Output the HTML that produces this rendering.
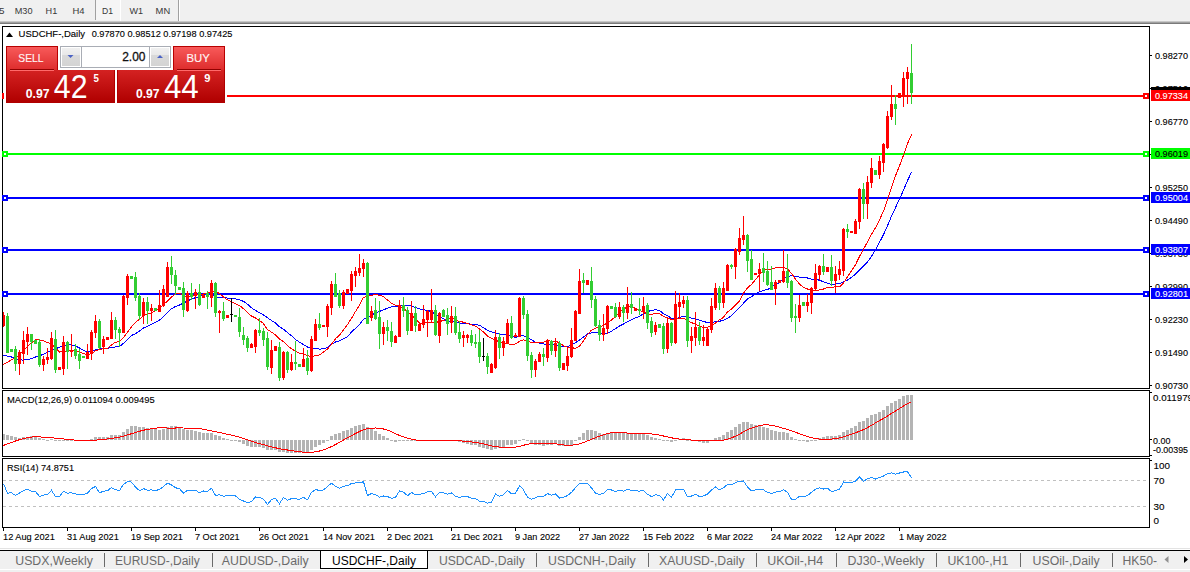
<!DOCTYPE html>
<html><head><meta charset="utf-8"><style>
html,body{margin:0;padding:0;width:1190px;height:572px;overflow:hidden;background:#fff;}
#main{position:absolute;left:0;top:0;}
#tp div{position:absolute;box-sizing:border-box;}
.rb{background:linear-gradient(#f85a5a,#dc2a2a);border:1px solid #b80000;border-bottom:none;}
.pb{background:linear-gradient(#d42222,#b00000);border:1px solid #b00000;border-top:none;}
.ln{height:1px;background:#900000;}
.ln2{height:1px;background:#ff6a6a;}
.lot{left:58px;top:45px;width:116px;height:25px;background:#f0f0f0;border:1px solid #d8d8d8;}
#tp .lot::after{content:"";position:absolute;left:1px;top:1px;width:112px;height:21px;background:#fff;border:1px solid #a8a8a8;box-sizing:border-box;}
.spin{top:48px;width:18px;height:18px;background:linear-gradient(#f0f0f0,#e8e8e8 40%,#d9d9d9 41%,#d4d4d4);}
#pt{position:absolute;left:0;top:0;}
</style></head><body>
<svg id="main" width="1190" height="572" font-family="Liberation Sans, sans-serif">
<rect x="0" y="0" width="1190" height="22" fill="#f0f0f0"/>
<rect x="0" y="21" width="1190" height="1" fill="#c8c8c8"/>
<rect x="0" y="22" width="1190" height="1" fill="#a0a0a0"/>
<rect x="0" y="23" width="1190" height="1" fill="#7a7a7a"/>
<rect x="96" y="0" width="24" height="20" fill="#f5f5f5"/>
<rect x="95" y="0" width="1" height="20" fill="#a0a0a0"/>
<rect x="120" y="0" width="1" height="21" fill="#ffffff"/>
<rect x="178" y="0" width="1" height="21" fill="#a0a0a0"/>
<rect x="179" y="0" width="1" height="21" fill="#ffffff"/>
<text x="-1" y="14" font-size="9.4" fill="#383838" textLength="5.5" lengthAdjust="spacingAndGlyphs">5</text>
<text x="14.7" y="14" font-size="9.4" fill="#383838" textLength="17.8" lengthAdjust="spacingAndGlyphs">M30</text>
<text x="45.6" y="14" font-size="9.4" fill="#383838" textLength="11.7" lengthAdjust="spacingAndGlyphs">H1</text>
<text x="72.5" y="14" font-size="9.4" fill="#383838" textLength="12.1" lengthAdjust="spacingAndGlyphs">H4</text>
<text x="102" y="14" font-size="9.4" fill="#383838" textLength="11" lengthAdjust="spacingAndGlyphs">D1</text>
<text x="129.4" y="14" font-size="9.4" fill="#383838" textLength="13.6" lengthAdjust="spacingAndGlyphs">W1</text>
<text x="155.6" y="14" font-size="9.4" fill="#383838" textLength="14.6" lengthAdjust="spacingAndGlyphs">MN</text>
<rect x="2.5" y="26.5" width="1147" height="362" fill="#fff" stroke="#000" stroke-width="1"/>
<rect x="2.5" y="390.5" width="1147" height="66" fill="#fff" stroke="#000" stroke-width="1"/>
<rect x="2.5" y="458.5" width="1147" height="69" fill="#fff" stroke="#000" stroke-width="1"/>
<defs><clipPath id="cm"><rect x="3" y="27" width="1146" height="361"/></clipPath><clipPath id="cd"><rect x="3" y="391" width="1146" height="65"/></clipPath><clipPath id="cr"><rect x="3" y="459" width="1146" height="68"/></clipPath></defs>
<g clip-path="url(#cm)" shape-rendering="crispEdges">
<rect x="3" y="95" width="1146" height="2" fill="#ff0000"/>
<rect x="3" y="153" width="1146" height="2" fill="#00ff00"/>
<rect x="3" y="197" width="1146" height="2" fill="#0000ff"/>
<rect x="3" y="249" width="1146" height="2" fill="#0000ff"/>
<rect x="3" y="293" width="1146" height="2" fill="#0000ff"/>
</g>
<g shape-rendering="crispEdges">
<rect x="2" y="93" width="6" height="6" fill="#ff0000"/>
<rect x="4" y="95" width="2" height="2" fill="#fff"/>
<rect x="1143" y="93" width="6" height="6" fill="#ff0000"/>
<rect x="1145" y="95" width="2" height="2" fill="#fff"/>
<rect x="2" y="151" width="6" height="6" fill="#00ff00"/>
<rect x="4" y="153" width="2" height="2" fill="#fff"/>
<rect x="1143" y="151" width="6" height="6" fill="#00ff00"/>
<rect x="1145" y="153" width="2" height="2" fill="#fff"/>
<rect x="2" y="195" width="6" height="6" fill="#0000ff"/>
<rect x="4" y="197" width="2" height="2" fill="#fff"/>
<rect x="1143" y="195" width="6" height="6" fill="#0000ff"/>
<rect x="1145" y="197" width="2" height="2" fill="#fff"/>
<rect x="2" y="247" width="6" height="6" fill="#0000ff"/>
<rect x="4" y="249" width="2" height="2" fill="#fff"/>
<rect x="1143" y="247" width="6" height="6" fill="#0000ff"/>
<rect x="1145" y="249" width="2" height="2" fill="#fff"/>
<rect x="2" y="291" width="6" height="6" fill="#0000ff"/>
<rect x="4" y="293" width="2" height="2" fill="#fff"/>
<rect x="1143" y="291" width="6" height="6" fill="#0000ff"/>
<rect x="1145" y="293" width="2" height="2" fill="#fff"/>
</g>
<polyline clip-path="url(#cm)" points="-0.5,354.2 3.5,355.1 7.5,356.1 11.5,357.0 15.5,358.7 19.5,359.9 23.5,360.1 27.5,359.5 31.5,358.6 35.5,357.0 39.5,355.8 43.5,354.2 47.5,352.5 51.5,349.9 55.5,348.6 59.5,347.4 63.5,345.4 67.5,344.9 71.5,345.0 75.5,346.0 79.5,348.0 83.5,350.4 87.5,352.1 91.5,351.2 95.5,349.7 99.5,349.0 103.5,348.3 107.5,348.2 111.5,347.6 115.5,347.0 119.5,346.5 123.5,343.3 127.5,339.3 131.5,335.5 135.5,333.6 139.5,331.0 143.5,327.9 147.5,326.4 151.5,324.3 155.5,322.4 159.5,320.0 163.5,316.7 167.5,312.4 171.5,308.7 175.5,306.5 179.5,305.0 183.5,303.1 187.5,301.0 191.5,299.0 195.5,297.7 199.5,296.5 203.5,294.8 207.5,294.8 211.5,295.1 215.5,296.7 219.5,297.4 223.5,297.5 227.5,298.1 231.5,298.4 235.5,298.8 239.5,299.8 243.5,301.4 247.5,304.1 251.5,307.8 255.5,310.5 259.5,312.7 263.5,315.0 267.5,317.8 271.5,320.5 275.5,322.9 279.5,326.9 283.5,329.2 287.5,332.7 291.5,335.8 295.5,339.6 299.5,342.2 303.5,344.5 307.5,347.0 311.5,348.1 315.5,348.6 319.5,349.1 323.5,348.8 327.5,347.3 331.5,344.3 335.5,342.0 339.5,340.8 343.5,338.9 347.5,336.5 351.5,332.1 355.5,328.3 359.5,324.6 363.5,319.2 367.5,317.8 371.5,315.1 375.5,313.0 379.5,311.5 383.5,309.7 387.5,308.3 391.5,306.9 395.5,306.8 399.5,305.9 403.5,305.1 407.5,305.3 411.5,305.6 415.5,307.6 419.5,308.9 423.5,309.6 427.5,310.5 431.5,311.5 435.5,314.4 439.5,316.4 443.5,318.7 447.5,321.5 451.5,321.2 455.5,322.2 459.5,323.1 463.5,323.2 467.5,323.6 471.5,324.2 475.5,324.3 479.5,325.3 483.5,327.7 487.5,330.3 491.5,331.9 495.5,333.1 499.5,334.1 503.5,334.9 507.5,335.1 511.5,336.4 515.5,337.5 519.5,335.8 523.5,335.8 527.5,337.7 531.5,339.9 535.5,342.1 539.5,343.1 543.5,344.0 547.5,344.2 551.5,344.9 555.5,345.0 559.5,346.1 563.5,346.4 567.5,346.4 571.5,345.1 575.5,342.6 579.5,340.0 583.5,336.9 587.5,334.0 591.5,332.9 595.5,332.3 599.5,332.3 603.5,333.8 607.5,333.4 611.5,331.1 615.5,328.6 619.5,326.0 623.5,324.0 627.5,321.6 631.5,319.9 635.5,317.9 639.5,316.4 643.5,313.5 647.5,311.6 651.5,310.4 655.5,309.7 659.5,310.5 663.5,313.7 667.5,315.6 671.5,318.5 675.5,318.8 679.5,317.7 683.5,316.1 687.5,316.7 691.5,318.1 695.5,319.0 699.5,320.1 703.5,321.6 707.5,322.4 711.5,322.5 715.5,321.6 719.5,321.3 723.5,320.2 727.5,318.3 731.5,315.6 735.5,311.7 739.5,307.5 743.5,303.2 747.5,298.9 751.5,296.8 755.5,293.6 759.5,291.9 763.5,290.4 767.5,289.6 771.5,287.2 775.5,284.6 779.5,282.4 783.5,279.1 787.5,276.4 791.5,275.8 795.5,276.3 799.5,277.2 803.5,277.3 807.5,278.0 811.5,279.1 815.5,279.4 819.5,280.2 823.5,281.8 827.5,283.3 831.5,284.3 835.5,284.0 839.5,283.9 843.5,281.9 847.5,280.0 851.5,277.4 855.5,274.2 859.5,269.8 863.5,266.1 867.5,261.9 871.5,256.5 875.5,249.7 879.5,242.3 883.5,234.6 887.5,225.6 891.5,216.2 895.5,207.6 899.5,199.0 903.5,190.1 907.5,180.6 911.5,172.3" fill="none" stroke="#0000ff" stroke-width="1" shape-rendering="crispEdges"/>
<polyline clip-path="url(#cm)" points="-0.5,366.0 3.5,364.2 7.5,362.4 11.5,359.7 15.5,357.6 19.5,354.7 23.5,350.9 27.5,346.6 31.5,342.9 35.5,339.9 39.5,340.0 43.5,340.8 47.5,342.5 51.5,343.8 55.5,348.3 59.5,352.0 63.5,351.3 67.5,351.3 71.5,350.4 75.5,350.6 79.5,352.0 83.5,353.7 87.5,354.5 91.5,353.7 95.5,350.6 99.5,349.7 103.5,348.5 107.5,348.4 111.5,344.9 115.5,342.2 119.5,341.5 123.5,337.6 127.5,332.3 131.5,326.8 135.5,322.3 139.5,319.3 143.5,315.7 147.5,314.1 151.5,313.2 155.5,310.5 159.5,308.1 163.5,304.7 167.5,300.9 171.5,297.0 175.5,293.7 179.5,293.2 183.5,295.5 187.5,296.6 191.5,296.5 195.5,294.9 199.5,295.0 203.5,294.0 207.5,293.2 211.5,291.3 215.5,291.8 219.5,293.4 223.5,297.0 227.5,299.9 231.5,301.9 235.5,303.9 239.5,305.5 243.5,308.7 247.5,312.4 251.5,316.1 255.5,318.0 259.5,320.6 263.5,323.6 267.5,329.6 271.5,332.2 275.5,334.8 279.5,339.0 283.5,341.6 287.5,345.6 291.5,348.8 295.5,351.1 299.5,353.1 303.5,353.9 307.5,355.8 311.5,356.4 315.5,355.8 319.5,355.0 323.5,352.0 327.5,348.9 331.5,344.4 335.5,338.7 339.5,335.3 343.5,329.8 347.5,324.6 351.5,318.3 355.5,311.5 359.5,305.0 363.5,297.4 367.5,296.2 371.5,295.3 375.5,294.7 379.5,295.2 383.5,296.7 387.5,300.0 391.5,303.2 395.5,305.4 399.5,306.3 403.5,307.8 407.5,311.8 411.5,314.8 415.5,318.9 419.5,323.2 423.5,322.9 427.5,322.9 431.5,322.4 435.5,322.5 439.5,321.5 443.5,320.5 447.5,319.2 451.5,317.8 455.5,319.7 459.5,321.7 463.5,322.1 467.5,323.6 471.5,324.8 475.5,326.2 479.5,328.9 483.5,332.1 487.5,336.1 491.5,338.2 495.5,339.9 499.5,342.1 503.5,343.4 507.5,343.9 511.5,344.2 515.5,344.0 519.5,341.3 523.5,339.9 527.5,340.8 531.5,342.7 535.5,343.0 539.5,342.8 543.5,342.1 547.5,340.5 551.5,341.4 555.5,341.1 559.5,343.0 563.5,345.8 567.5,347.2 571.5,347.5 575.5,348.5 579.5,346.1 583.5,340.9 587.5,334.5 591.5,330.1 595.5,328.1 599.5,326.5 603.5,325.6 607.5,322.5 611.5,320.0 615.5,316.4 619.5,312.4 623.5,309.3 627.5,306.8 631.5,306.4 635.5,308.4 639.5,310.4 643.5,312.2 647.5,313.8 651.5,314.3 655.5,313.6 659.5,313.5 663.5,316.6 667.5,317.6 671.5,319.5 675.5,319.3 679.5,318.6 683.5,318.3 687.5,320.7 691.5,322.7 695.5,323.9 699.5,326.3 703.5,327.4 707.5,327.2 711.5,325.9 715.5,323.1 719.5,319.8 723.5,317.3 727.5,311.8 731.5,309.1 735.5,305.2 739.5,300.8 743.5,293.3 747.5,287.8 751.5,284.4 755.5,279.6 759.5,274.7 763.5,270.7 767.5,269.0 771.5,269.1 775.5,267.7 779.5,267.1 783.5,267.6 787.5,268.7 791.5,273.5 795.5,279.1 799.5,284.1 803.5,287.3 807.5,289.0 811.5,290.1 815.5,290.4 819.5,289.9 823.5,289.0 827.5,287.5 831.5,287.3 835.5,286.9 839.5,286.8 843.5,283.0 847.5,276.8 851.5,270.7 855.5,264.7 859.5,256.4 863.5,249.3 867.5,241.8 871.5,234.3 875.5,227.7 879.5,219.9 883.5,211.1 887.5,199.4 891.5,187.2 895.5,175.7 899.5,166.0 903.5,155.1 907.5,143.7 911.5,134.5" fill="none" stroke="#ff0000" stroke-width="1" shape-rendering="crispEdges"/>
<g clip-path="url(#cm)" shape-rendering="crispEdges">
<rect x="3" y="312" width="1" height="15" fill="#ff0000"/>
<rect x="2" y="315" width="3" height="11" fill="#ff0000"/>
<rect x="7" y="313" width="1" height="40" fill="#32cd32"/>
<rect x="6" y="316" width="3" height="37" fill="#32cd32"/>
<rect x="11" y="349" width="1" height="3" fill="#32cd32"/>
<rect x="10" y="349" width="3" height="3" fill="#32cd32"/>
<rect x="15" y="346" width="1" height="25" fill="#32cd32"/>
<rect x="14" y="349" width="3" height="15" fill="#32cd32"/>
<rect x="19" y="350" width="1" height="25" fill="#ff0000"/>
<rect x="18" y="352" width="3" height="12" fill="#ff0000"/>
<rect x="23" y="331" width="1" height="33" fill="#ff0000"/>
<rect x="22" y="340" width="3" height="14" fill="#ff0000"/>
<rect x="27" y="327" width="1" height="28" fill="#ff0000"/>
<rect x="26" y="334" width="3" height="8" fill="#ff0000"/>
<rect x="31" y="334" width="1" height="16" fill="#32cd32"/>
<rect x="30" y="334" width="3" height="8" fill="#32cd32"/>
<rect x="35" y="340" width="1" height="4" fill="#32cd32"/>
<rect x="34" y="340" width="3" height="4" fill="#32cd32"/>
<rect x="39" y="339" width="1" height="28" fill="#32cd32"/>
<rect x="38" y="342" width="3" height="23" fill="#32cd32"/>
<rect x="43" y="356" width="1" height="15" fill="#ff0000"/>
<rect x="42" y="359" width="3" height="6" fill="#ff0000"/>
<rect x="47" y="348" width="1" height="16" fill="#ff0000"/>
<rect x="46" y="357" width="3" height="3" fill="#ff0000"/>
<rect x="51" y="332" width="1" height="28" fill="#ff0000"/>
<rect x="50" y="338" width="3" height="21" fill="#ff0000"/>
<rect x="55" y="330" width="1" height="43" fill="#32cd32"/>
<rect x="54" y="339" width="3" height="31" fill="#32cd32"/>
<rect x="59" y="367" width="1" height="3" fill="#ff0000"/>
<rect x="58" y="367" width="3" height="3" fill="#ff0000"/>
<rect x="63" y="336" width="1" height="39" fill="#ff0000"/>
<rect x="62" y="342" width="3" height="27" fill="#ff0000"/>
<rect x="67" y="341" width="1" height="28" fill="#32cd32"/>
<rect x="66" y="342" width="3" height="10" fill="#32cd32"/>
<rect x="71" y="334" width="1" height="23" fill="#ff0000"/>
<rect x="70" y="350" width="3" height="2" fill="#ff0000"/>
<rect x="75" y="344" width="1" height="15" fill="#32cd32"/>
<rect x="74" y="349" width="3" height="7" fill="#32cd32"/>
<rect x="79" y="349" width="1" height="20" fill="#32cd32"/>
<rect x="78" y="354" width="3" height="7" fill="#32cd32"/>
<rect x="83" y="356" width="1" height="2" fill="#32cd32"/>
<rect x="82" y="356" width="3" height="2" fill="#32cd32"/>
<rect x="87" y="344" width="1" height="15" fill="#ff0000"/>
<rect x="86" y="352" width="3" height="7" fill="#ff0000"/>
<rect x="91" y="330" width="1" height="30" fill="#ff0000"/>
<rect x="90" y="332" width="3" height="22" fill="#ff0000"/>
<rect x="95" y="315" width="1" height="23" fill="#ff0000"/>
<rect x="94" y="321" width="3" height="12" fill="#ff0000"/>
<rect x="99" y="319" width="1" height="30" fill="#32cd32"/>
<rect x="98" y="321" width="3" height="27" fill="#32cd32"/>
<rect x="103" y="336" width="1" height="18" fill="#ff0000"/>
<rect x="102" y="339" width="3" height="8" fill="#ff0000"/>
<rect x="107" y="337" width="1" height="3" fill="#ff0000"/>
<rect x="106" y="337" width="3" height="3" fill="#ff0000"/>
<rect x="111" y="312" width="1" height="27" fill="#ff0000"/>
<rect x="110" y="320" width="3" height="19" fill="#ff0000"/>
<rect x="115" y="317" width="1" height="22" fill="#32cd32"/>
<rect x="114" y="320" width="3" height="10" fill="#32cd32"/>
<rect x="119" y="327" width="1" height="20" fill="#32cd32"/>
<rect x="118" y="329" width="3" height="4" fill="#32cd32"/>
<rect x="123" y="295" width="1" height="38" fill="#ff0000"/>
<rect x="122" y="296" width="3" height="37" fill="#ff0000"/>
<rect x="127" y="274" width="1" height="31" fill="#ff0000"/>
<rect x="126" y="276" width="3" height="22" fill="#ff0000"/>
<rect x="131" y="276" width="1" height="3" fill="#32cd32"/>
<rect x="130" y="276" width="3" height="3" fill="#32cd32"/>
<rect x="135" y="272" width="1" height="29" fill="#32cd32"/>
<rect x="134" y="277" width="3" height="21" fill="#32cd32"/>
<rect x="139" y="293" width="1" height="27" fill="#32cd32"/>
<rect x="138" y="296" width="3" height="20" fill="#32cd32"/>
<rect x="143" y="298" width="1" height="26" fill="#ff0000"/>
<rect x="142" y="302" width="3" height="14" fill="#ff0000"/>
<rect x="147" y="297" width="1" height="27" fill="#32cd32"/>
<rect x="146" y="302" width="3" height="9" fill="#32cd32"/>
<rect x="151" y="304" width="1" height="17" fill="#ff0000"/>
<rect x="150" y="308" width="3" height="3" fill="#ff0000"/>
<rect x="155" y="308" width="1" height="3" fill="#32cd32"/>
<rect x="154" y="308" width="3" height="3" fill="#32cd32"/>
<rect x="159" y="290" width="1" height="22" fill="#ff0000"/>
<rect x="158" y="305" width="3" height="7" fill="#ff0000"/>
<rect x="163" y="285" width="1" height="22" fill="#ff0000"/>
<rect x="162" y="289" width="3" height="17" fill="#ff0000"/>
<rect x="167" y="262" width="1" height="35" fill="#ff0000"/>
<rect x="166" y="267" width="3" height="30" fill="#ff0000"/>
<rect x="171" y="256" width="1" height="28" fill="#32cd32"/>
<rect x="170" y="267" width="3" height="8" fill="#32cd32"/>
<rect x="175" y="270" width="1" height="25" fill="#32cd32"/>
<rect x="174" y="275" width="3" height="11" fill="#32cd32"/>
<rect x="179" y="287" width="1" height="3" fill="#32cd32"/>
<rect x="178" y="287" width="3" height="3" fill="#32cd32"/>
<rect x="183" y="282" width="1" height="35" fill="#32cd32"/>
<rect x="182" y="288" width="3" height="22" fill="#32cd32"/>
<rect x="187" y="291" width="1" height="21" fill="#ff0000"/>
<rect x="186" y="293" width="3" height="18" fill="#ff0000"/>
<rect x="191" y="283" width="1" height="17" fill="#32cd32"/>
<rect x="190" y="293" width="3" height="4" fill="#32cd32"/>
<rect x="195" y="289" width="1" height="20" fill="#ff0000"/>
<rect x="194" y="292" width="3" height="4" fill="#ff0000"/>
<rect x="199" y="284" width="1" height="22" fill="#32cd32"/>
<rect x="198" y="292" width="3" height="13" fill="#32cd32"/>
<rect x="203" y="295" width="1" height="3" fill="#ff0000"/>
<rect x="202" y="295" width="3" height="3" fill="#ff0000"/>
<rect x="207" y="291" width="1" height="18" fill="#32cd32"/>
<rect x="206" y="293" width="3" height="4" fill="#32cd32"/>
<rect x="211" y="280" width="1" height="27" fill="#ff0000"/>
<rect x="210" y="283" width="3" height="15" fill="#ff0000"/>
<rect x="215" y="282" width="1" height="35" fill="#32cd32"/>
<rect x="214" y="283" width="3" height="30" fill="#32cd32"/>
<rect x="219" y="310" width="1" height="23" fill="#ff0000"/>
<rect x="218" y="311" width="3" height="2" fill="#ff0000"/>
<rect x="223" y="302" width="1" height="19" fill="#32cd32"/>
<rect x="222" y="311" width="3" height="8" fill="#32cd32"/>
<rect x="227" y="315" width="1" height="3" fill="#ff0000"/>
<rect x="226" y="315" width="3" height="3" fill="#ff0000"/>
<rect x="231" y="298" width="1" height="24" fill="#000000"/>
<rect x="230" y="314" width="3" height="1" fill="#000000"/>
<rect x="235" y="315" width="1" height="2" fill="#32cd32"/>
<rect x="234" y="315" width="3" height="2" fill="#32cd32"/>
<rect x="239" y="308" width="1" height="29" fill="#32cd32"/>
<rect x="238" y="317" width="3" height="15" fill="#32cd32"/>
<rect x="243" y="327" width="1" height="18" fill="#32cd32"/>
<rect x="242" y="335" width="3" height="5" fill="#32cd32"/>
<rect x="247" y="336" width="1" height="16" fill="#32cd32"/>
<rect x="246" y="338" width="3" height="10" fill="#32cd32"/>
<rect x="251" y="343" width="1" height="5" fill="#ff0000"/>
<rect x="250" y="344" width="3" height="4" fill="#ff0000"/>
<rect x="255" y="329" width="1" height="24" fill="#ff0000"/>
<rect x="254" y="330" width="3" height="17" fill="#ff0000"/>
<rect x="259" y="318" width="1" height="18" fill="#32cd32"/>
<rect x="258" y="330" width="3" height="3" fill="#32cd32"/>
<rect x="263" y="328" width="1" height="18" fill="#32cd32"/>
<rect x="262" y="331" width="3" height="9" fill="#32cd32"/>
<rect x="267" y="332" width="1" height="38" fill="#32cd32"/>
<rect x="266" y="338" width="3" height="29" fill="#32cd32"/>
<rect x="271" y="340" width="1" height="34" fill="#ff0000"/>
<rect x="270" y="350" width="3" height="18" fill="#ff0000"/>
<rect x="275" y="346" width="1" height="5" fill="#ff0000"/>
<rect x="274" y="346" width="3" height="5" fill="#ff0000"/>
<rect x="279" y="342" width="1" height="39" fill="#32cd32"/>
<rect x="278" y="347" width="3" height="31" fill="#32cd32"/>
<rect x="283" y="351" width="1" height="29" fill="#ff0000"/>
<rect x="282" y="352" width="3" height="26" fill="#ff0000"/>
<rect x="287" y="351" width="1" height="22" fill="#32cd32"/>
<rect x="286" y="352" width="3" height="18" fill="#32cd32"/>
<rect x="291" y="354" width="1" height="17" fill="#ff0000"/>
<rect x="290" y="362" width="3" height="8" fill="#ff0000"/>
<rect x="295" y="341" width="1" height="29" fill="#32cd32"/>
<rect x="294" y="362" width="3" height="2" fill="#32cd32"/>
<rect x="299" y="364" width="1" height="3" fill="#32cd32"/>
<rect x="298" y="364" width="3" height="3" fill="#32cd32"/>
<rect x="303" y="348" width="1" height="19" fill="#ff0000"/>
<rect x="302" y="359" width="3" height="8" fill="#ff0000"/>
<rect x="307" y="350" width="1" height="25" fill="#32cd32"/>
<rect x="306" y="358" width="3" height="13" fill="#32cd32"/>
<rect x="311" y="336" width="1" height="36" fill="#ff0000"/>
<rect x="310" y="339" width="3" height="32" fill="#ff0000"/>
<rect x="315" y="319" width="1" height="22" fill="#ff0000"/>
<rect x="314" y="324" width="3" height="17" fill="#ff0000"/>
<rect x="319" y="313" width="1" height="17" fill="#32cd32"/>
<rect x="318" y="324" width="3" height="4" fill="#32cd32"/>
<rect x="323" y="325" width="1" height="2" fill="#ff0000"/>
<rect x="322" y="325" width="3" height="2" fill="#ff0000"/>
<rect x="327" y="304" width="1" height="33" fill="#ff0000"/>
<rect x="326" y="306" width="3" height="21" fill="#ff0000"/>
<rect x="331" y="281" width="1" height="34" fill="#ff0000"/>
<rect x="330" y="284" width="3" height="24" fill="#ff0000"/>
<rect x="335" y="273" width="1" height="24" fill="#32cd32"/>
<rect x="334" y="284" width="3" height="13" fill="#32cd32"/>
<rect x="339" y="290" width="1" height="18" fill="#32cd32"/>
<rect x="338" y="293" width="3" height="13" fill="#32cd32"/>
<rect x="343" y="290" width="1" height="19" fill="#ff0000"/>
<rect x="342" y="292" width="3" height="14" fill="#ff0000"/>
<rect x="347" y="289" width="1" height="5" fill="#ff0000"/>
<rect x="346" y="289" width="3" height="5" fill="#ff0000"/>
<rect x="351" y="271" width="1" height="30" fill="#ff0000"/>
<rect x="350" y="274" width="3" height="17" fill="#ff0000"/>
<rect x="355" y="267" width="1" height="20" fill="#ff0000"/>
<rect x="354" y="271" width="3" height="5" fill="#ff0000"/>
<rect x="359" y="254" width="1" height="22" fill="#ff0000"/>
<rect x="358" y="268" width="3" height="5" fill="#ff0000"/>
<rect x="363" y="259" width="1" height="18" fill="#ff0000"/>
<rect x="362" y="263" width="3" height="6" fill="#ff0000"/>
<rect x="367" y="262" width="1" height="62" fill="#32cd32"/>
<rect x="366" y="263" width="3" height="61" fill="#32cd32"/>
<rect x="371" y="306" width="1" height="15" fill="#ff0000"/>
<rect x="370" y="311" width="3" height="7" fill="#ff0000"/>
<rect x="375" y="298" width="1" height="22" fill="#32cd32"/>
<rect x="374" y="310" width="3" height="9" fill="#32cd32"/>
<rect x="379" y="301" width="1" height="48" fill="#32cd32"/>
<rect x="378" y="317" width="3" height="17" fill="#32cd32"/>
<rect x="383" y="322" width="1" height="23" fill="#ff0000"/>
<rect x="382" y="327" width="3" height="7" fill="#ff0000"/>
<rect x="387" y="320" width="1" height="21" fill="#32cd32"/>
<rect x="386" y="327" width="3" height="4" fill="#32cd32"/>
<rect x="391" y="322" width="1" height="25" fill="#32cd32"/>
<rect x="390" y="331" width="3" height="11" fill="#32cd32"/>
<rect x="395" y="335" width="1" height="8" fill="#ff0000"/>
<rect x="394" y="336" width="3" height="7" fill="#ff0000"/>
<rect x="399" y="300" width="1" height="37" fill="#ff0000"/>
<rect x="398" y="305" width="3" height="32" fill="#ff0000"/>
<rect x="403" y="297" width="1" height="20" fill="#32cd32"/>
<rect x="402" y="305" width="3" height="6" fill="#32cd32"/>
<rect x="407" y="307" width="1" height="28" fill="#32cd32"/>
<rect x="406" y="310" width="3" height="21" fill="#32cd32"/>
<rect x="411" y="301" width="1" height="30" fill="#ff0000"/>
<rect x="410" y="313" width="3" height="18" fill="#ff0000"/>
<rect x="415" y="306" width="1" height="26" fill="#32cd32"/>
<rect x="414" y="313" width="3" height="13" fill="#32cd32"/>
<rect x="419" y="322" width="1" height="9" fill="#ff0000"/>
<rect x="418" y="324" width="3" height="7" fill="#ff0000"/>
<rect x="423" y="305" width="1" height="23" fill="#ff0000"/>
<rect x="422" y="319" width="3" height="6" fill="#ff0000"/>
<rect x="427" y="310" width="1" height="27" fill="#ff0000"/>
<rect x="426" y="311" width="3" height="9" fill="#ff0000"/>
<rect x="431" y="289" width="1" height="34" fill="#ff0000"/>
<rect x="430" y="310" width="3" height="10" fill="#ff0000"/>
<rect x="435" y="305" width="1" height="31" fill="#32cd32"/>
<rect x="434" y="310" width="3" height="25" fill="#32cd32"/>
<rect x="439" y="312" width="1" height="31" fill="#ff0000"/>
<rect x="438" y="313" width="3" height="23" fill="#ff0000"/>
<rect x="443" y="309" width="1" height="8" fill="#32cd32"/>
<rect x="442" y="310" width="3" height="7" fill="#32cd32"/>
<rect x="447" y="308" width="1" height="27" fill="#32cd32"/>
<rect x="446" y="315" width="3" height="9" fill="#32cd32"/>
<rect x="451" y="306" width="1" height="27" fill="#ff0000"/>
<rect x="450" y="316" width="3" height="7" fill="#ff0000"/>
<rect x="455" y="307" width="1" height="28" fill="#32cd32"/>
<rect x="454" y="316" width="3" height="17" fill="#32cd32"/>
<rect x="459" y="321" width="1" height="22" fill="#32cd32"/>
<rect x="458" y="332" width="3" height="7" fill="#32cd32"/>
<rect x="463" y="331" width="1" height="16" fill="#ff0000"/>
<rect x="462" y="335" width="3" height="3" fill="#ff0000"/>
<rect x="467" y="334" width="1" height="9" fill="#ff0000"/>
<rect x="466" y="335" width="3" height="3" fill="#ff0000"/>
<rect x="471" y="330" width="1" height="16" fill="#32cd32"/>
<rect x="470" y="335" width="3" height="8" fill="#32cd32"/>
<rect x="475" y="334" width="1" height="14" fill="#32cd32"/>
<rect x="474" y="342" width="3" height="2" fill="#32cd32"/>
<rect x="479" y="330" width="1" height="33" fill="#32cd32"/>
<rect x="478" y="342" width="3" height="15" fill="#32cd32"/>
<rect x="483" y="338" width="1" height="23" fill="#000000"/>
<rect x="482" y="356" width="3" height="1" fill="#000000"/>
<rect x="487" y="353" width="1" height="21" fill="#32cd32"/>
<rect x="486" y="356" width="3" height="11" fill="#32cd32"/>
<rect x="491" y="363" width="1" height="10" fill="#ff0000"/>
<rect x="490" y="364" width="3" height="9" fill="#ff0000"/>
<rect x="495" y="330" width="1" height="39" fill="#ff0000"/>
<rect x="494" y="337" width="3" height="31" fill="#ff0000"/>
<rect x="499" y="333" width="1" height="26" fill="#32cd32"/>
<rect x="498" y="337" width="3" height="11" fill="#32cd32"/>
<rect x="503" y="337" width="1" height="19" fill="#ff0000"/>
<rect x="502" y="341" width="3" height="7" fill="#ff0000"/>
<rect x="507" y="319" width="1" height="25" fill="#ff0000"/>
<rect x="506" y="323" width="3" height="20" fill="#ff0000"/>
<rect x="511" y="316" width="1" height="23" fill="#32cd32"/>
<rect x="510" y="323" width="3" height="15" fill="#32cd32"/>
<rect x="515" y="333" width="1" height="4" fill="#ff0000"/>
<rect x="514" y="335" width="3" height="2" fill="#ff0000"/>
<rect x="519" y="297" width="1" height="40" fill="#ff0000"/>
<rect x="518" y="298" width="3" height="39" fill="#ff0000"/>
<rect x="523" y="296" width="1" height="23" fill="#32cd32"/>
<rect x="522" y="298" width="3" height="17" fill="#32cd32"/>
<rect x="527" y="310" width="1" height="51" fill="#32cd32"/>
<rect x="526" y="314" width="3" height="42" fill="#32cd32"/>
<rect x="531" y="352" width="1" height="26" fill="#32cd32"/>
<rect x="530" y="355" width="3" height="15" fill="#32cd32"/>
<rect x="535" y="359" width="1" height="18" fill="#ff0000"/>
<rect x="534" y="361" width="3" height="9" fill="#ff0000"/>
<rect x="539" y="352" width="1" height="10" fill="#ff0000"/>
<rect x="538" y="354" width="3" height="8" fill="#ff0000"/>
<rect x="543" y="348" width="1" height="18" fill="#32cd32"/>
<rect x="542" y="354" width="3" height="3" fill="#32cd32"/>
<rect x="547" y="339" width="1" height="23" fill="#ff0000"/>
<rect x="546" y="341" width="3" height="17" fill="#ff0000"/>
<rect x="551" y="340" width="1" height="15" fill="#32cd32"/>
<rect x="550" y="341" width="3" height="10" fill="#32cd32"/>
<rect x="555" y="338" width="1" height="19" fill="#ff0000"/>
<rect x="554" y="343" width="3" height="8" fill="#ff0000"/>
<rect x="559" y="341" width="1" height="30" fill="#32cd32"/>
<rect x="558" y="343" width="3" height="25" fill="#32cd32"/>
<rect x="563" y="363" width="1" height="7" fill="#ff0000"/>
<rect x="562" y="363" width="3" height="7" fill="#ff0000"/>
<rect x="567" y="348" width="1" height="23" fill="#ff0000"/>
<rect x="566" y="356" width="3" height="10" fill="#ff0000"/>
<rect x="571" y="328" width="1" height="30" fill="#ff0000"/>
<rect x="570" y="340" width="3" height="17" fill="#ff0000"/>
<rect x="575" y="310" width="1" height="31" fill="#ff0000"/>
<rect x="574" y="311" width="3" height="30" fill="#ff0000"/>
<rect x="579" y="269" width="1" height="45" fill="#ff0000"/>
<rect x="578" y="281" width="3" height="33" fill="#ff0000"/>
<rect x="583" y="273" width="1" height="20" fill="#32cd32"/>
<rect x="582" y="280" width="3" height="3" fill="#32cd32"/>
<rect x="587" y="280" width="1" height="5" fill="#ff0000"/>
<rect x="586" y="280" width="3" height="5" fill="#ff0000"/>
<rect x="591" y="267" width="1" height="41" fill="#32cd32"/>
<rect x="590" y="281" width="3" height="19" fill="#32cd32"/>
<rect x="595" y="296" width="1" height="31" fill="#32cd32"/>
<rect x="594" y="299" width="3" height="27" fill="#32cd32"/>
<rect x="599" y="320" width="1" height="21" fill="#32cd32"/>
<rect x="598" y="325" width="3" height="10" fill="#32cd32"/>
<rect x="603" y="314" width="1" height="27" fill="#ff0000"/>
<rect x="602" y="328" width="3" height="7" fill="#ff0000"/>
<rect x="607" y="305" width="1" height="29" fill="#ff0000"/>
<rect x="606" y="306" width="3" height="23" fill="#ff0000"/>
<rect x="611" y="306" width="1" height="3" fill="#32cd32"/>
<rect x="610" y="306" width="3" height="3" fill="#32cd32"/>
<rect x="615" y="303" width="1" height="15" fill="#32cd32"/>
<rect x="614" y="307" width="3" height="10" fill="#32cd32"/>
<rect x="619" y="302" width="1" height="17" fill="#ff0000"/>
<rect x="618" y="307" width="3" height="10" fill="#ff0000"/>
<rect x="623" y="305" width="1" height="17" fill="#32cd32"/>
<rect x="622" y="307" width="3" height="6" fill="#32cd32"/>
<rect x="627" y="287" width="1" height="32" fill="#ff0000"/>
<rect x="626" y="304" width="3" height="9" fill="#ff0000"/>
<rect x="631" y="292" width="1" height="22" fill="#32cd32"/>
<rect x="630" y="304" width="3" height="4" fill="#32cd32"/>
<rect x="635" y="308" width="1" height="3" fill="#ff0000"/>
<rect x="634" y="308" width="3" height="3" fill="#ff0000"/>
<rect x="639" y="298" width="1" height="17" fill="#32cd32"/>
<rect x="638" y="309" width="3" height="2" fill="#32cd32"/>
<rect x="643" y="297" width="1" height="22" fill="#ff0000"/>
<rect x="642" y="306" width="3" height="6" fill="#ff0000"/>
<rect x="647" y="303" width="1" height="26" fill="#32cd32"/>
<rect x="646" y="305" width="3" height="18" fill="#32cd32"/>
<rect x="651" y="317" width="1" height="20" fill="#32cd32"/>
<rect x="650" y="321" width="3" height="12" fill="#32cd32"/>
<rect x="655" y="322" width="1" height="13" fill="#ff0000"/>
<rect x="654" y="325" width="3" height="7" fill="#ff0000"/>
<rect x="659" y="324" width="1" height="4" fill="#32cd32"/>
<rect x="658" y="324" width="3" height="4" fill="#32cd32"/>
<rect x="663" y="323" width="1" height="31" fill="#32cd32"/>
<rect x="662" y="326" width="3" height="23" fill="#32cd32"/>
<rect x="667" y="318" width="1" height="35" fill="#ff0000"/>
<rect x="666" y="323" width="3" height="26" fill="#ff0000"/>
<rect x="671" y="322" width="1" height="24" fill="#32cd32"/>
<rect x="670" y="323" width="3" height="20" fill="#32cd32"/>
<rect x="675" y="291" width="1" height="53" fill="#ff0000"/>
<rect x="674" y="304" width="3" height="39" fill="#ff0000"/>
<rect x="679" y="293" width="1" height="26" fill="#ff0000"/>
<rect x="678" y="302" width="3" height="5" fill="#ff0000"/>
<rect x="683" y="296" width="1" height="12" fill="#ff0000"/>
<rect x="682" y="300" width="3" height="4" fill="#ff0000"/>
<rect x="687" y="296" width="1" height="51" fill="#32cd32"/>
<rect x="686" y="300" width="3" height="41" fill="#32cd32"/>
<rect x="691" y="327" width="1" height="26" fill="#ff0000"/>
<rect x="690" y="336" width="3" height="5" fill="#ff0000"/>
<rect x="695" y="312" width="1" height="34" fill="#ff0000"/>
<rect x="694" y="327" width="3" height="11" fill="#ff0000"/>
<rect x="699" y="322" width="1" height="23" fill="#32cd32"/>
<rect x="698" y="327" width="3" height="14" fill="#32cd32"/>
<rect x="703" y="325" width="1" height="21" fill="#ff0000"/>
<rect x="702" y="337" width="3" height="4" fill="#ff0000"/>
<rect x="707" y="328" width="1" height="18" fill="#ff0000"/>
<rect x="706" y="329" width="3" height="17" fill="#ff0000"/>
<rect x="711" y="298" width="1" height="35" fill="#ff0000"/>
<rect x="710" y="306" width="3" height="24" fill="#ff0000"/>
<rect x="715" y="283" width="1" height="27" fill="#ff0000"/>
<rect x="714" y="288" width="3" height="20" fill="#ff0000"/>
<rect x="719" y="286" width="1" height="24" fill="#32cd32"/>
<rect x="718" y="288" width="3" height="15" fill="#32cd32"/>
<rect x="723" y="282" width="1" height="26" fill="#ff0000"/>
<rect x="722" y="288" width="3" height="15" fill="#ff0000"/>
<rect x="727" y="264" width="1" height="27" fill="#ff0000"/>
<rect x="726" y="265" width="3" height="26" fill="#ff0000"/>
<rect x="731" y="264" width="1" height="5" fill="#32cd32"/>
<rect x="730" y="265" width="3" height="2" fill="#32cd32"/>
<rect x="735" y="248" width="1" height="31" fill="#ff0000"/>
<rect x="734" y="249" width="3" height="18" fill="#ff0000"/>
<rect x="739" y="228" width="1" height="27" fill="#ff0000"/>
<rect x="738" y="238" width="3" height="14" fill="#ff0000"/>
<rect x="743" y="216" width="1" height="29" fill="#ff0000"/>
<rect x="742" y="235" width="3" height="5" fill="#ff0000"/>
<rect x="747" y="234" width="1" height="38" fill="#32cd32"/>
<rect x="746" y="235" width="3" height="26" fill="#32cd32"/>
<rect x="751" y="250" width="1" height="30" fill="#32cd32"/>
<rect x="750" y="259" width="3" height="21" fill="#32cd32"/>
<rect x="755" y="273" width="1" height="2" fill="#ff0000"/>
<rect x="754" y="273" width="3" height="2" fill="#ff0000"/>
<rect x="759" y="263" width="1" height="28" fill="#ff0000"/>
<rect x="758" y="269" width="3" height="5" fill="#ff0000"/>
<rect x="763" y="253" width="1" height="29" fill="#32cd32"/>
<rect x="762" y="268" width="3" height="5" fill="#32cd32"/>
<rect x="767" y="261" width="1" height="25" fill="#32cd32"/>
<rect x="766" y="271" width="3" height="14" fill="#32cd32"/>
<rect x="771" y="266" width="1" height="24" fill="#32cd32"/>
<rect x="770" y="282" width="3" height="8" fill="#32cd32"/>
<rect x="775" y="280" width="1" height="25" fill="#ff0000"/>
<rect x="774" y="282" width="3" height="7" fill="#ff0000"/>
<rect x="779" y="280" width="1" height="3" fill="#ff0000"/>
<rect x="778" y="280" width="3" height="3" fill="#ff0000"/>
<rect x="783" y="250" width="1" height="33" fill="#ff0000"/>
<rect x="782" y="271" width="3" height="11" fill="#ff0000"/>
<rect x="787" y="254" width="1" height="34" fill="#32cd32"/>
<rect x="786" y="271" width="3" height="12" fill="#32cd32"/>
<rect x="791" y="280" width="1" height="42" fill="#32cd32"/>
<rect x="790" y="281" width="3" height="37" fill="#32cd32"/>
<rect x="795" y="304" width="1" height="29" fill="#32cd32"/>
<rect x="794" y="316" width="3" height="2" fill="#32cd32"/>
<rect x="799" y="295" width="1" height="27" fill="#ff0000"/>
<rect x="798" y="305" width="3" height="13" fill="#ff0000"/>
<rect x="803" y="302" width="1" height="4" fill="#32cd32"/>
<rect x="802" y="302" width="3" height="4" fill="#32cd32"/>
<rect x="807" y="294" width="1" height="18" fill="#ff0000"/>
<rect x="806" y="302" width="3" height="4" fill="#ff0000"/>
<rect x="811" y="287" width="1" height="27" fill="#ff0000"/>
<rect x="810" y="288" width="3" height="15" fill="#ff0000"/>
<rect x="815" y="264" width="1" height="26" fill="#ff0000"/>
<rect x="814" y="273" width="3" height="16" fill="#ff0000"/>
<rect x="819" y="265" width="1" height="15" fill="#ff0000"/>
<rect x="818" y="266" width="3" height="9" fill="#ff0000"/>
<rect x="823" y="254" width="1" height="21" fill="#32cd32"/>
<rect x="822" y="266" width="3" height="6" fill="#32cd32"/>
<rect x="827" y="267" width="1" height="5" fill="#ff0000"/>
<rect x="826" y="267" width="3" height="5" fill="#ff0000"/>
<rect x="831" y="255" width="1" height="31" fill="#32cd32"/>
<rect x="830" y="267" width="3" height="14" fill="#32cd32"/>
<rect x="835" y="266" width="1" height="27" fill="#ff0000"/>
<rect x="834" y="274" width="3" height="7" fill="#ff0000"/>
<rect x="839" y="261" width="1" height="19" fill="#ff0000"/>
<rect x="838" y="269" width="3" height="6" fill="#ff0000"/>
<rect x="843" y="228" width="1" height="48" fill="#ff0000"/>
<rect x="842" y="229" width="3" height="42" fill="#ff0000"/>
<rect x="847" y="224" width="1" height="14" fill="#32cd32"/>
<rect x="846" y="229" width="3" height="3" fill="#32cd32"/>
<rect x="851" y="231" width="1" height="2" fill="#ff0000"/>
<rect x="850" y="231" width="3" height="2" fill="#ff0000"/>
<rect x="855" y="219" width="1" height="15" fill="#ff0000"/>
<rect x="854" y="221" width="3" height="13" fill="#ff0000"/>
<rect x="859" y="188" width="1" height="41" fill="#ff0000"/>
<rect x="858" y="189" width="3" height="33" fill="#ff0000"/>
<rect x="863" y="183" width="1" height="36" fill="#32cd32"/>
<rect x="862" y="189" width="3" height="15" fill="#32cd32"/>
<rect x="867" y="176" width="1" height="43" fill="#ff0000"/>
<rect x="866" y="182" width="3" height="22" fill="#ff0000"/>
<rect x="871" y="158" width="1" height="30" fill="#ff0000"/>
<rect x="870" y="168" width="3" height="15" fill="#ff0000"/>
<rect x="875" y="170" width="1" height="5" fill="#32cd32"/>
<rect x="874" y="170" width="3" height="5" fill="#32cd32"/>
<rect x="879" y="156" width="1" height="23" fill="#ff0000"/>
<rect x="878" y="161" width="3" height="14" fill="#ff0000"/>
<rect x="883" y="143" width="1" height="29" fill="#ff0000"/>
<rect x="882" y="144" width="3" height="19" fill="#ff0000"/>
<rect x="887" y="111" width="1" height="38" fill="#ff0000"/>
<rect x="886" y="116" width="3" height="32" fill="#ff0000"/>
<rect x="891" y="85" width="1" height="35" fill="#ff0000"/>
<rect x="890" y="104" width="3" height="13" fill="#ff0000"/>
<rect x="895" y="95" width="1" height="30" fill="#32cd32"/>
<rect x="894" y="104" width="3" height="5" fill="#32cd32"/>
<rect x="899" y="93" width="1" height="5" fill="#ff0000"/>
<rect x="898" y="93" width="3" height="5" fill="#ff0000"/>
<rect x="903" y="72" width="1" height="35" fill="#ff0000"/>
<rect x="902" y="78" width="3" height="17" fill="#ff0000"/>
<rect x="907" y="67" width="1" height="37" fill="#ff0000"/>
<rect x="906" y="72" width="3" height="7" fill="#ff0000"/>
<rect x="911" y="44" width="1" height="60" fill="#32cd32"/>
<rect x="910" y="73" width="3" height="20" fill="#32cd32"/>
</g>
<g shape-rendering="crispEdges">
<rect x="1150" y="55" width="2" height="1" fill="#000"/>
<text x="1155" y="59" font-size="9.9" fill="#000" stroke="#000" stroke-width="0.12" textLength="33" lengthAdjust="spacingAndGlyphs">0.98270</text>
<rect x="1150" y="88" width="2" height="1" fill="#000"/>
<text x="1155" y="92" font-size="9.9" fill="#000" stroke="#000" stroke-width="0.12" textLength="33" lengthAdjust="spacingAndGlyphs">0.97510</text>
<rect x="1150" y="121" width="2" height="1" fill="#000"/>
<text x="1155" y="125" font-size="9.9" fill="#000" stroke="#000" stroke-width="0.12" textLength="33" lengthAdjust="spacingAndGlyphs">0.96770</text>
<rect x="1150" y="154" width="2" height="1" fill="#000"/>
<text x="1155" y="158" font-size="9.9" fill="#000" stroke="#000" stroke-width="0.12" textLength="33" lengthAdjust="spacingAndGlyphs">0.96010</text>
<rect x="1150" y="187" width="2" height="1" fill="#000"/>
<text x="1155" y="191" font-size="9.9" fill="#000" stroke="#000" stroke-width="0.12" textLength="33" lengthAdjust="spacingAndGlyphs">0.95250</text>
<rect x="1150" y="220" width="2" height="1" fill="#000"/>
<text x="1155" y="224" font-size="9.9" fill="#000" stroke="#000" stroke-width="0.12" textLength="33" lengthAdjust="spacingAndGlyphs">0.94490</text>
<rect x="1150" y="253" width="2" height="1" fill="#000"/>
<text x="1155" y="257" font-size="9.9" fill="#000" stroke="#000" stroke-width="0.12" textLength="33" lengthAdjust="spacingAndGlyphs">0.93730</text>
<rect x="1150" y="286" width="2" height="1" fill="#000"/>
<text x="1155" y="290" font-size="9.9" fill="#000" stroke="#000" stroke-width="0.12" textLength="33" lengthAdjust="spacingAndGlyphs">0.92990</text>
<rect x="1150" y="319" width="2" height="1" fill="#000"/>
<text x="1155" y="323" font-size="9.9" fill="#000" stroke="#000" stroke-width="0.12" textLength="33" lengthAdjust="spacingAndGlyphs">0.92230</text>
<rect x="1150" y="352" width="2" height="1" fill="#000"/>
<text x="1155" y="356" font-size="9.9" fill="#000" stroke="#000" stroke-width="0.12" textLength="33" lengthAdjust="spacingAndGlyphs">0.91490</text>
<rect x="1150" y="385" width="2" height="1" fill="#000"/>
<text x="1155" y="389" font-size="9.9" fill="#000" stroke="#000" stroke-width="0.12" textLength="33" lengthAdjust="spacingAndGlyphs">0.90730</text>
</g>
<rect x="1151" y="87" width="39" height="3" fill="#000"/>
<rect x="1151" y="90" width="39" height="11" fill="#ff0000"/>
<text x="1155" y="99" font-size="9.9" fill="#fff" stroke="#fff" stroke-width="0.12" textLength="33" lengthAdjust="spacingAndGlyphs">0.97334</text>
<rect x="1151" y="148" width="39" height="11" fill="#00ff00"/>
<text x="1155" y="157" font-size="9.9" fill="#000" stroke="#000" stroke-width="0.12" textLength="33" lengthAdjust="spacingAndGlyphs">0.96019</text>
<rect x="1151" y="192" width="39" height="11" fill="#0000ff"/>
<text x="1155" y="201" font-size="9.9" fill="#fff" stroke="#fff" stroke-width="0.12" textLength="33" lengthAdjust="spacingAndGlyphs">0.95004</text>
<rect x="1151" y="244" width="39" height="11" fill="#0000ff"/>
<text x="1155" y="253" font-size="9.9" fill="#fff" stroke="#fff" stroke-width="0.12" textLength="33" lengthAdjust="spacingAndGlyphs">0.93807</text>
<rect x="1151" y="288" width="39" height="11" fill="#0000ff"/>
<text x="1155" y="297" font-size="9.9" fill="#fff" stroke="#fff" stroke-width="0.12" textLength="33" lengthAdjust="spacingAndGlyphs">0.92801</text>
<path d="M6 37 L9.5 32.5 L13 37 Z" fill="#000"/>
<text x="18.6" y="37" font-size="9.9" fill="#000" stroke="#000" stroke-width="0.12" textLength="66.5" lengthAdjust="spacingAndGlyphs">USDCHF-,Daily</text>
<text x="91.7" y="37" font-size="9.9" fill="#000" stroke="#000" stroke-width="0.12" textLength="140.7" lengthAdjust="spacingAndGlyphs">0.97870 0.98512 0.97198 0.97425</text>
<g clip-path="url(#cd)" shape-rendering="crispEdges">
<rect x="2" y="434" width="3" height="6" fill="#b4b4b4"/>
<rect x="6" y="435" width="3" height="5" fill="#b4b4b4"/>
<rect x="10" y="436" width="3" height="4" fill="#b4b4b4"/>
<rect x="14" y="437" width="3" height="3" fill="#b4b4b4"/>
<rect x="18" y="438" width="3" height="2" fill="#b4b4b4"/>
<rect x="22" y="437" width="3" height="3" fill="#b4b4b4"/>
<rect x="26" y="437" width="3" height="3" fill="#b4b4b4"/>
<rect x="30" y="436" width="3" height="4" fill="#b4b4b4"/>
<rect x="34" y="437" width="3" height="3" fill="#b4b4b4"/>
<rect x="38" y="438" width="3" height="2" fill="#b4b4b4"/>
<rect x="42" y="439" width="3" height="1" fill="#b4b4b4"/>
<rect x="46" y="440" width="3" height="1" fill="#b4b4b4"/>
<rect x="50" y="439" width="3" height="1" fill="#b4b4b4"/>
<rect x="54" y="440" width="3" height="1" fill="#b4b4b4"/>
<rect x="58" y="440" width="3" height="1" fill="#b4b4b4"/>
<rect x="62" y="440" width="3" height="1" fill="#b4b4b4"/>
<rect x="66" y="440" width="3" height="1" fill="#b4b4b4"/>
<rect x="70" y="440" width="3" height="1" fill="#b4b4b4"/>
<rect x="74" y="440" width="3" height="1" fill="#b4b4b4"/>
<rect x="78" y="440" width="3" height="1" fill="#b4b4b4"/>
<rect x="82" y="440" width="3" height="1" fill="#b4b4b4"/>
<rect x="86" y="440" width="3" height="1" fill="#b4b4b4"/>
<rect x="90" y="439" width="3" height="1" fill="#b4b4b4"/>
<rect x="94" y="437" width="3" height="3" fill="#b4b4b4"/>
<rect x="98" y="437" width="3" height="3" fill="#b4b4b4"/>
<rect x="102" y="437" width="3" height="3" fill="#b4b4b4"/>
<rect x="106" y="437" width="3" height="3" fill="#b4b4b4"/>
<rect x="110" y="435" width="3" height="5" fill="#b4b4b4"/>
<rect x="114" y="435" width="3" height="5" fill="#b4b4b4"/>
<rect x="118" y="435" width="3" height="5" fill="#b4b4b4"/>
<rect x="122" y="432" width="3" height="8" fill="#b4b4b4"/>
<rect x="126" y="429" width="3" height="11" fill="#b4b4b4"/>
<rect x="130" y="426" width="3" height="14" fill="#b4b4b4"/>
<rect x="134" y="426" width="3" height="14" fill="#b4b4b4"/>
<rect x="138" y="427" width="3" height="13" fill="#b4b4b4"/>
<rect x="142" y="427" width="3" height="13" fill="#b4b4b4"/>
<rect x="146" y="428" width="3" height="12" fill="#b4b4b4"/>
<rect x="150" y="429" width="3" height="11" fill="#b4b4b4"/>
<rect x="154" y="429" width="3" height="11" fill="#b4b4b4"/>
<rect x="158" y="430" width="3" height="10" fill="#b4b4b4"/>
<rect x="162" y="429" width="3" height="11" fill="#b4b4b4"/>
<rect x="166" y="427" width="3" height="13" fill="#b4b4b4"/>
<rect x="170" y="426" width="3" height="14" fill="#b4b4b4"/>
<rect x="174" y="426" width="3" height="14" fill="#b4b4b4"/>
<rect x="178" y="427" width="3" height="13" fill="#b4b4b4"/>
<rect x="182" y="429" width="3" height="11" fill="#b4b4b4"/>
<rect x="186" y="430" width="3" height="10" fill="#b4b4b4"/>
<rect x="190" y="430" width="3" height="10" fill="#b4b4b4"/>
<rect x="194" y="431" width="3" height="9" fill="#b4b4b4"/>
<rect x="198" y="432" width="3" height="8" fill="#b4b4b4"/>
<rect x="202" y="433" width="3" height="7" fill="#b4b4b4"/>
<rect x="206" y="433" width="3" height="7" fill="#b4b4b4"/>
<rect x="210" y="433" width="3" height="7" fill="#b4b4b4"/>
<rect x="214" y="435" width="3" height="5" fill="#b4b4b4"/>
<rect x="218" y="436" width="3" height="4" fill="#b4b4b4"/>
<rect x="222" y="438" width="3" height="2" fill="#b4b4b4"/>
<rect x="226" y="439" width="3" height="1" fill="#b4b4b4"/>
<rect x="230" y="440" width="3" height="1" fill="#b4b4b4"/>
<rect x="234" y="440" width="3" height="1" fill="#b4b4b4"/>
<rect x="238" y="440" width="3" height="2" fill="#b4b4b4"/>
<rect x="242" y="440" width="3" height="4" fill="#b4b4b4"/>
<rect x="246" y="440" width="3" height="6" fill="#b4b4b4"/>
<rect x="250" y="440" width="3" height="7" fill="#b4b4b4"/>
<rect x="254" y="440" width="3" height="7" fill="#b4b4b4"/>
<rect x="258" y="440" width="3" height="7" fill="#b4b4b4"/>
<rect x="262" y="440" width="3" height="8" fill="#b4b4b4"/>
<rect x="266" y="440" width="3" height="10" fill="#b4b4b4"/>
<rect x="270" y="440" width="3" height="10" fill="#b4b4b4"/>
<rect x="274" y="440" width="3" height="10" fill="#b4b4b4"/>
<rect x="278" y="440" width="3" height="12" fill="#b4b4b4"/>
<rect x="282" y="440" width="3" height="12" fill="#b4b4b4"/>
<rect x="286" y="440" width="3" height="13" fill="#b4b4b4"/>
<rect x="290" y="440" width="3" height="13" fill="#b4b4b4"/>
<rect x="294" y="440" width="3" height="13" fill="#b4b4b4"/>
<rect x="298" y="440" width="3" height="13" fill="#b4b4b4"/>
<rect x="302" y="440" width="3" height="12" fill="#b4b4b4"/>
<rect x="306" y="440" width="3" height="12" fill="#b4b4b4"/>
<rect x="310" y="440" width="3" height="10" fill="#b4b4b4"/>
<rect x="314" y="440" width="3" height="7" fill="#b4b4b4"/>
<rect x="318" y="440" width="3" height="5" fill="#b4b4b4"/>
<rect x="322" y="440" width="3" height="3" fill="#b4b4b4"/>
<rect x="326" y="440" width="3" height="1" fill="#b4b4b4"/>
<rect x="330" y="436" width="3" height="4" fill="#b4b4b4"/>
<rect x="334" y="434" width="3" height="6" fill="#b4b4b4"/>
<rect x="338" y="433" width="3" height="7" fill="#b4b4b4"/>
<rect x="342" y="431" width="3" height="9" fill="#b4b4b4"/>
<rect x="346" y="430" width="3" height="10" fill="#b4b4b4"/>
<rect x="350" y="428" width="3" height="12" fill="#b4b4b4"/>
<rect x="354" y="426" width="3" height="14" fill="#b4b4b4"/>
<rect x="358" y="425" width="3" height="15" fill="#b4b4b4"/>
<rect x="362" y="424" width="3" height="16" fill="#b4b4b4"/>
<rect x="366" y="427" width="3" height="13" fill="#b4b4b4"/>
<rect x="370" y="429" width="3" height="11" fill="#b4b4b4"/>
<rect x="374" y="431" width="3" height="9" fill="#b4b4b4"/>
<rect x="378" y="434" width="3" height="6" fill="#b4b4b4"/>
<rect x="382" y="436" width="3" height="4" fill="#b4b4b4"/>
<rect x="386" y="438" width="3" height="2" fill="#b4b4b4"/>
<rect x="390" y="440" width="3" height="1" fill="#b4b4b4"/>
<rect x="394" y="440" width="3" height="2" fill="#b4b4b4"/>
<rect x="398" y="440" width="3" height="1" fill="#b4b4b4"/>
<rect x="402" y="440" width="3" height="1" fill="#b4b4b4"/>
<rect x="406" y="440" width="3" height="1" fill="#b4b4b4"/>
<rect x="410" y="440" width="3" height="1" fill="#b4b4b4"/>
<rect x="414" y="440" width="3" height="1" fill="#b4b4b4"/>
<rect x="418" y="440" width="3" height="1" fill="#b4b4b4"/>
<rect x="422" y="440" width="3" height="1" fill="#b4b4b4"/>
<rect x="426" y="440" width="3" height="1" fill="#b4b4b4"/>
<rect x="430" y="440" width="3" height="1" fill="#b4b4b4"/>
<rect x="434" y="440" width="3" height="1" fill="#b4b4b4"/>
<rect x="438" y="440" width="3" height="1" fill="#b4b4b4"/>
<rect x="442" y="440" width="3" height="1" fill="#b4b4b4"/>
<rect x="446" y="440" width="3" height="1" fill="#b4b4b4"/>
<rect x="450" y="440" width="3" height="1" fill="#b4b4b4"/>
<rect x="454" y="440" width="3" height="1" fill="#b4b4b4"/>
<rect x="458" y="440" width="3" height="2" fill="#b4b4b4"/>
<rect x="462" y="440" width="3" height="3" fill="#b4b4b4"/>
<rect x="466" y="440" width="3" height="4" fill="#b4b4b4"/>
<rect x="470" y="440" width="3" height="5" fill="#b4b4b4"/>
<rect x="474" y="440" width="3" height="5" fill="#b4b4b4"/>
<rect x="478" y="440" width="3" height="7" fill="#b4b4b4"/>
<rect x="482" y="440" width="3" height="8" fill="#b4b4b4"/>
<rect x="486" y="440" width="3" height="9" fill="#b4b4b4"/>
<rect x="490" y="440" width="3" height="10" fill="#b4b4b4"/>
<rect x="494" y="440" width="3" height="9" fill="#b4b4b4"/>
<rect x="498" y="440" width="3" height="8" fill="#b4b4b4"/>
<rect x="502" y="440" width="3" height="7" fill="#b4b4b4"/>
<rect x="506" y="440" width="3" height="5" fill="#b4b4b4"/>
<rect x="510" y="440" width="3" height="5" fill="#b4b4b4"/>
<rect x="514" y="440" width="3" height="4" fill="#b4b4b4"/>
<rect x="518" y="440" width="3" height="1" fill="#b4b4b4"/>
<rect x="522" y="439" width="3" height="1" fill="#b4b4b4"/>
<rect x="526" y="440" width="3" height="1" fill="#b4b4b4"/>
<rect x="530" y="440" width="3" height="3" fill="#b4b4b4"/>
<rect x="534" y="440" width="3" height="5" fill="#b4b4b4"/>
<rect x="538" y="440" width="3" height="5" fill="#b4b4b4"/>
<rect x="542" y="440" width="3" height="6" fill="#b4b4b4"/>
<rect x="546" y="440" width="3" height="5" fill="#b4b4b4"/>
<rect x="550" y="440" width="3" height="5" fill="#b4b4b4"/>
<rect x="554" y="440" width="3" height="4" fill="#b4b4b4"/>
<rect x="558" y="440" width="3" height="6" fill="#b4b4b4"/>
<rect x="562" y="440" width="3" height="6" fill="#b4b4b4"/>
<rect x="566" y="440" width="3" height="6" fill="#b4b4b4"/>
<rect x="570" y="440" width="3" height="5" fill="#b4b4b4"/>
<rect x="574" y="440" width="3" height="1" fill="#b4b4b4"/>
<rect x="578" y="437" width="3" height="3" fill="#b4b4b4"/>
<rect x="582" y="433" width="3" height="7" fill="#b4b4b4"/>
<rect x="586" y="430" width="3" height="10" fill="#b4b4b4"/>
<rect x="590" y="430" width="3" height="10" fill="#b4b4b4"/>
<rect x="594" y="431" width="3" height="9" fill="#b4b4b4"/>
<rect x="598" y="433" width="3" height="7" fill="#b4b4b4"/>
<rect x="602" y="434" width="3" height="6" fill="#b4b4b4"/>
<rect x="606" y="433" width="3" height="7" fill="#b4b4b4"/>
<rect x="610" y="433" width="3" height="7" fill="#b4b4b4"/>
<rect x="614" y="433" width="3" height="7" fill="#b4b4b4"/>
<rect x="618" y="433" width="3" height="7" fill="#b4b4b4"/>
<rect x="622" y="433" width="3" height="7" fill="#b4b4b4"/>
<rect x="626" y="433" width="3" height="7" fill="#b4b4b4"/>
<rect x="630" y="433" width="3" height="7" fill="#b4b4b4"/>
<rect x="634" y="433" width="3" height="7" fill="#b4b4b4"/>
<rect x="638" y="434" width="3" height="6" fill="#b4b4b4"/>
<rect x="642" y="434" width="3" height="6" fill="#b4b4b4"/>
<rect x="646" y="435" width="3" height="5" fill="#b4b4b4"/>
<rect x="650" y="437" width="3" height="3" fill="#b4b4b4"/>
<rect x="654" y="438" width="3" height="2" fill="#b4b4b4"/>
<rect x="658" y="439" width="3" height="1" fill="#b4b4b4"/>
<rect x="662" y="440" width="3" height="1" fill="#b4b4b4"/>
<rect x="666" y="440" width="3" height="1" fill="#b4b4b4"/>
<rect x="670" y="440" width="3" height="2" fill="#b4b4b4"/>
<rect x="674" y="440" width="3" height="1" fill="#b4b4b4"/>
<rect x="678" y="439" width="3" height="1" fill="#b4b4b4"/>
<rect x="682" y="438" width="3" height="2" fill="#b4b4b4"/>
<rect x="686" y="440" width="3" height="1" fill="#b4b4b4"/>
<rect x="690" y="440" width="3" height="1" fill="#b4b4b4"/>
<rect x="694" y="440" width="3" height="1" fill="#b4b4b4"/>
<rect x="698" y="440" width="3" height="2" fill="#b4b4b4"/>
<rect x="702" y="440" width="3" height="3" fill="#b4b4b4"/>
<rect x="706" y="440" width="3" height="3" fill="#b4b4b4"/>
<rect x="710" y="440" width="3" height="1" fill="#b4b4b4"/>
<rect x="714" y="438" width="3" height="2" fill="#b4b4b4"/>
<rect x="718" y="437" width="3" height="3" fill="#b4b4b4"/>
<rect x="722" y="435" width="3" height="5" fill="#b4b4b4"/>
<rect x="726" y="432" width="3" height="8" fill="#b4b4b4"/>
<rect x="730" y="430" width="3" height="10" fill="#b4b4b4"/>
<rect x="734" y="427" width="3" height="13" fill="#b4b4b4"/>
<rect x="738" y="424" width="3" height="16" fill="#b4b4b4"/>
<rect x="742" y="422" width="3" height="18" fill="#b4b4b4"/>
<rect x="746" y="422" width="3" height="18" fill="#b4b4b4"/>
<rect x="750" y="424" width="3" height="16" fill="#b4b4b4"/>
<rect x="754" y="425" width="3" height="15" fill="#b4b4b4"/>
<rect x="758" y="426" width="3" height="14" fill="#b4b4b4"/>
<rect x="762" y="427" width="3" height="13" fill="#b4b4b4"/>
<rect x="766" y="428" width="3" height="12" fill="#b4b4b4"/>
<rect x="770" y="430" width="3" height="10" fill="#b4b4b4"/>
<rect x="774" y="431" width="3" height="9" fill="#b4b4b4"/>
<rect x="778" y="432" width="3" height="8" fill="#b4b4b4"/>
<rect x="782" y="432" width="3" height="8" fill="#b4b4b4"/>
<rect x="786" y="433" width="3" height="7" fill="#b4b4b4"/>
<rect x="790" y="437" width="3" height="3" fill="#b4b4b4"/>
<rect x="794" y="439" width="3" height="1" fill="#b4b4b4"/>
<rect x="798" y="440" width="3" height="1" fill="#b4b4b4"/>
<rect x="802" y="440" width="3" height="1" fill="#b4b4b4"/>
<rect x="806" y="440" width="3" height="2" fill="#b4b4b4"/>
<rect x="810" y="440" width="3" height="1" fill="#b4b4b4"/>
<rect x="814" y="440" width="3" height="1" fill="#b4b4b4"/>
<rect x="818" y="438" width="3" height="2" fill="#b4b4b4"/>
<rect x="822" y="437" width="3" height="3" fill="#b4b4b4"/>
<rect x="826" y="436" width="3" height="4" fill="#b4b4b4"/>
<rect x="830" y="436" width="3" height="4" fill="#b4b4b4"/>
<rect x="834" y="436" width="3" height="4" fill="#b4b4b4"/>
<rect x="838" y="435" width="3" height="5" fill="#b4b4b4"/>
<rect x="842" y="432" width="3" height="8" fill="#b4b4b4"/>
<rect x="846" y="430" width="3" height="10" fill="#b4b4b4"/>
<rect x="850" y="428" width="3" height="12" fill="#b4b4b4"/>
<rect x="854" y="426" width="3" height="14" fill="#b4b4b4"/>
<rect x="858" y="422" width="3" height="18" fill="#b4b4b4"/>
<rect x="862" y="421" width="3" height="19" fill="#b4b4b4"/>
<rect x="866" y="418" width="3" height="22" fill="#b4b4b4"/>
<rect x="870" y="415" width="3" height="25" fill="#b4b4b4"/>
<rect x="874" y="414" width="3" height="26" fill="#b4b4b4"/>
<rect x="878" y="412" width="3" height="28" fill="#b4b4b4"/>
<rect x="882" y="410" width="3" height="30" fill="#b4b4b4"/>
<rect x="886" y="406" width="3" height="34" fill="#b4b4b4"/>
<rect x="890" y="403" width="3" height="37" fill="#b4b4b4"/>
<rect x="894" y="401" width="3" height="39" fill="#b4b4b4"/>
<rect x="898" y="399" width="3" height="41" fill="#b4b4b4"/>
<rect x="902" y="396" width="3" height="44" fill="#b4b4b4"/>
<rect x="906" y="395" width="3" height="45" fill="#b4b4b4"/>
<rect x="910" y="395" width="3" height="45" fill="#b4b4b4"/>
</g>
<polyline clip-path="url(#cd)" points="-0.5,446.9 3.5,445.4 7.5,443.9 11.5,442.4 15.5,441.0 19.5,439.7 23.5,438.6 27.5,437.8 31.5,437.1 35.5,436.4 39.5,436.8 43.5,437.3 47.5,437.7 51.5,437.8 55.5,438.1 59.5,438.6 63.5,439.0 67.5,439.5 71.5,439.9 75.5,440.1 79.5,440.3 83.5,440.5 87.5,440.7 91.5,440.6 95.5,440.1 99.5,439.8 103.5,439.4 107.5,439.0 111.5,438.5 115.5,437.8 119.5,437.1 123.5,436.1 127.5,434.9 131.5,433.7 135.5,432.4 139.5,431.3 143.5,430.2 147.5,429.4 151.5,428.7 155.5,428.1 159.5,427.9 163.5,427.9 167.5,428.0 171.5,428.0 175.5,428.0 179.5,427.9 183.5,428.0 187.5,428.1 191.5,428.2 195.5,428.3 199.5,428.7 203.5,429.3 207.5,430.1 211.5,430.8 215.5,431.7 219.5,432.4 223.5,433.3 227.5,434.3 231.5,435.2 235.5,436.2 239.5,437.2 243.5,438.4 247.5,439.9 251.5,441.3 255.5,442.6 259.5,443.6 263.5,444.6 267.5,445.8 271.5,446.9 275.5,447.8 279.5,448.7 283.5,449.4 287.5,450.0 291.5,450.7 295.5,451.3 299.5,451.9 303.5,452.1 307.5,452.4 311.5,452.4 315.5,451.8 319.5,451.0 323.5,449.9 327.5,448.4 331.5,446.6 335.5,444.5 339.5,442.3 343.5,440.0 347.5,437.7 351.5,435.6 355.5,433.5 359.5,431.5 363.5,429.7 367.5,428.7 371.5,428.2 375.5,428.0 379.5,428.3 383.5,429.0 387.5,430.1 391.5,431.7 395.5,433.6 399.5,435.5 403.5,436.9 407.5,438.2 411.5,439.2 415.5,439.9 419.5,440.5 423.5,440.8 427.5,440.8 431.5,440.6 435.5,440.7 439.5,440.7 443.5,440.7 447.5,440.7 451.5,440.6 455.5,440.6 459.5,440.8 463.5,441.1 467.5,441.5 471.5,441.9 475.5,442.4 479.5,443.1 483.5,443.9 487.5,444.9 491.5,445.9 495.5,446.6 499.5,447.1 503.5,447.5 507.5,447.6 511.5,447.5 515.5,447.2 519.5,446.4 523.5,445.3 527.5,444.2 531.5,443.7 535.5,443.3 539.5,443.1 543.5,443.1 547.5,443.2 551.5,443.3 555.5,443.7 559.5,444.4 563.5,445.0 567.5,445.3 571.5,445.2 575.5,444.8 579.5,443.8 583.5,442.5 587.5,440.9 591.5,439.3 595.5,437.7 599.5,436.2 603.5,434.9 607.5,433.6 611.5,432.7 615.5,432.3 619.5,432.3 623.5,432.7 627.5,433.1 631.5,433.3 635.5,433.4 639.5,433.3 643.5,433.4 647.5,433.6 651.5,434.0 655.5,434.5 659.5,435.1 663.5,436.0 667.5,436.8 671.5,437.8 675.5,438.6 679.5,439.1 683.5,439.4 687.5,439.7 691.5,440.1 695.5,440.3 699.5,440.4 703.5,440.7 707.5,440.7 711.5,440.8 715.5,440.7 719.5,440.6 723.5,440.1 727.5,439.2 731.5,437.9 735.5,436.2 739.5,434.1 743.5,431.8 747.5,429.7 751.5,428.1 755.5,426.7 759.5,425.7 763.5,425.0 767.5,424.9 771.5,425.2 775.5,426.1 779.5,427.2 783.5,428.4 787.5,429.4 791.5,430.7 795.5,432.2 799.5,433.8 803.5,435.2 807.5,436.5 811.5,437.6 815.5,438.5 819.5,439.1 823.5,439.5 827.5,439.5 831.5,439.1 835.5,438.6 839.5,437.9 843.5,436.8 847.5,435.5 851.5,434.2 855.5,432.9 859.5,431.2 863.5,429.6 867.5,427.6 871.5,425.3 875.5,422.9 879.5,420.6 883.5,418.4 887.5,416.0 891.5,413.4 895.5,411.0 899.5,408.5 903.5,406.1 907.5,403.8 911.5,401.8" fill="none" stroke="#ff0000" stroke-width="1" shape-rendering="crispEdges"/>
<text x="7" y="403" font-size="9.9" fill="#000" stroke="#000" stroke-width="0.12" textLength="147.6" lengthAdjust="spacingAndGlyphs">MACD(12,26,9) 0.011094 0.009495</text>
<rect x="1150" y="392" width="2" height="1" fill="#000"/>
<rect x="1150" y="439" width="2" height="1" fill="#000"/>
<rect x="1150" y="455" width="2" height="1" fill="#000"/>
<rect x="1150" y="460" width="2" height="1" fill="#000"/>
<text x="1153" y="401" font-size="9.9" fill="#000" stroke="#000" stroke-width="0.12" textLength="40" lengthAdjust="spacingAndGlyphs">0.011979</text>
<text x="1153" y="444" font-size="9.9" fill="#000" stroke="#000" stroke-width="0.12" textLength="17.4" lengthAdjust="spacingAndGlyphs">0.00</text>
<text x="1153" y="453" font-size="9.9" fill="#000" stroke="#000" stroke-width="0.12" textLength="35" lengthAdjust="spacingAndGlyphs">-0.00395</text>
<line x1="3" y1="480.5" x2="1149" y2="480.5" stroke="#c0c0c0" stroke-dasharray="3,3"/>
<line x1="3" y1="506.5" x2="1149" y2="506.5" stroke="#c0c0c0" stroke-dasharray="3,3"/>
<polyline clip-path="url(#cr)" points="3.5,483.9 7.5,493.1 11.5,492.9 15.5,495.4 19.5,493.0 23.5,490.6 27.5,489.3 31.5,491.1 35.5,491.6 39.5,496.4 43.5,495.1 47.5,494.6 51.5,490.2 55.5,496.8 59.5,496.4 63.5,491.2 67.5,493.1 71.5,492.8 75.5,493.9 79.5,495.0 83.5,494.4 87.5,493.1 91.5,488.5 95.5,486.5 99.5,492.8 103.5,491.2 107.5,490.8 111.5,487.5 115.5,489.8 119.5,490.5 123.5,484.3 127.5,481.6 131.5,482.1 135.5,486.9 139.5,490.7 143.5,488.6 147.5,490.2 151.5,489.9 155.5,490.5 159.5,489.5 163.5,486.5 167.5,483.1 171.5,485.0 175.5,487.8 179.5,488.7 183.5,493.2 187.5,490.2 191.5,490.8 195.5,490.1 199.5,492.8 203.5,491.0 207.5,491.3 211.5,488.4 215.5,495.2 219.5,494.9 223.5,496.3 227.5,495.6 231.5,495.4 235.5,495.9 239.5,499.4 243.5,501.0 247.5,502.7 251.5,501.5 255.5,497.0 259.5,497.5 263.5,499.1 267.5,504.5 271.5,499.5 275.5,498.4 279.5,503.7 283.5,497.5 287.5,500.2 291.5,498.6 295.5,498.8 299.5,499.3 303.5,497.5 307.5,499.6 311.5,492.5 315.5,489.7 319.5,490.3 323.5,490.0 327.5,486.5 331.5,483.2 335.5,486.2 339.5,488.3 343.5,486.3 347.5,485.7 351.5,483.5 355.5,483.0 359.5,482.6 363.5,481.8 367.5,495.6 371.5,493.4 375.5,494.7 379.5,497.1 383.5,496.0 387.5,496.6 391.5,498.4 395.5,497.2 399.5,491.0 403.5,492.1 407.5,495.7 411.5,492.5 415.5,494.8 419.5,494.4 423.5,493.5 427.5,491.8 431.5,491.6 435.5,496.8 439.5,492.4 443.5,492.9 447.5,494.3 451.5,492.9 455.5,496.2 459.5,497.3 463.5,496.6 467.5,496.6 471.5,498.2 475.5,498.4 479.5,501.3 483.5,501.1 487.5,503.1 491.5,502.3 495.5,494.0 499.5,496.3 503.5,494.8 507.5,490.3 511.5,493.8 515.5,493.3 519.5,485.8 523.5,489.8 527.5,497.3 531.5,499.4 535.5,497.7 539.5,496.2 543.5,496.6 547.5,493.6 551.5,495.2 555.5,493.8 559.5,498.1 563.5,497.1 567.5,495.6 571.5,492.3 575.5,487.6 579.5,483.6 583.5,483.9 587.5,483.6 591.5,487.9 595.5,493.0 599.5,494.4 603.5,493.4 607.5,489.6 611.5,490.0 615.5,491.7 619.5,490.1 623.5,491.1 627.5,489.6 631.5,490.2 635.5,490.6 639.5,491.2 643.5,490.2 647.5,494.3 651.5,496.5 655.5,494.8 659.5,495.3 663.5,500.0 667.5,493.5 671.5,497.2 675.5,490.0 679.5,489.7 683.5,489.3 687.5,496.9 691.5,496.0 695.5,494.3 699.5,496.5 703.5,495.9 707.5,494.2 711.5,489.9 715.5,487.0 719.5,489.9 723.5,487.8 727.5,484.5 731.5,484.8 735.5,482.6 739.5,481.3 743.5,481.0 747.5,487.0 751.5,490.8 755.5,489.9 759.5,489.2 763.5,489.9 767.5,492.4 771.5,493.5 775.5,492.1 779.5,491.6 783.5,489.6 787.5,492.3 791.5,499.3 795.5,499.3 799.5,496.4 803.5,496.4 807.5,495.7 811.5,492.3 815.5,489.1 819.5,487.7 823.5,489.0 827.5,488.2 831.5,491.7 835.5,490.5 839.5,489.2 843.5,482.0 847.5,482.6 851.5,482.6 855.5,481.1 859.5,477.1 863.5,481.2 867.5,478.8 871.5,477.3 875.5,479.0 879.5,477.6 883.5,476.0 887.5,473.8 891.5,472.9 895.5,474.1 899.5,473.0 903.5,472.0 907.5,471.6 911.5,477.7" fill="none" stroke="#1e90ff" stroke-width="1" shape-rendering="crispEdges"/>
<text x="7" y="471" font-size="9.9" fill="#000" stroke="#000" stroke-width="0.12" textLength="67" lengthAdjust="spacingAndGlyphs">RSI(14) 74.8751</text>
<text x="1153.5" y="469" font-size="9.9" fill="#000" stroke="#000" stroke-width="0.12">100</text>
<text x="1153.5" y="484" font-size="9.9" fill="#000" stroke="#000" stroke-width="0.12">70</text>
<text x="1153.5" y="510" font-size="9.9" fill="#000" stroke="#000" stroke-width="0.12">30</text>
<text x="1153.5" y="524" font-size="9.9" fill="#000" stroke="#000" stroke-width="0.12">0</text>
<g shape-rendering="crispEdges">
<rect x="3" y="527" width="1" height="4" fill="#000"/>
<rect x="67" y="527" width="1" height="4" fill="#000"/>
<rect x="131" y="527" width="1" height="4" fill="#000"/>
<rect x="195" y="527" width="1" height="4" fill="#000"/>
<rect x="259" y="527" width="1" height="4" fill="#000"/>
<rect x="323" y="527" width="1" height="4" fill="#000"/>
<rect x="387" y="527" width="1" height="4" fill="#000"/>
<rect x="451" y="527" width="1" height="4" fill="#000"/>
<rect x="515" y="527" width="1" height="4" fill="#000"/>
<rect x="579" y="527" width="1" height="4" fill="#000"/>
<rect x="643" y="527" width="1" height="4" fill="#000"/>
<rect x="707" y="527" width="1" height="4" fill="#000"/>
<rect x="771" y="527" width="1" height="4" fill="#000"/>
<rect x="835" y="527" width="1" height="4" fill="#000"/>
<rect x="899" y="527" width="1" height="4" fill="#000"/>
</g>
<text x="3" y="540" font-size="9.9" fill="#000" stroke="#000" stroke-width="0.12" textLength="51.8" lengthAdjust="spacingAndGlyphs">12 Aug 2021</text>
<text x="67" y="540" font-size="9.9" fill="#000" stroke="#000" stroke-width="0.12" textLength="51.8" lengthAdjust="spacingAndGlyphs">31 Aug 2021</text>
<text x="131" y="540" font-size="9.9" fill="#000" stroke="#000" stroke-width="0.12" textLength="51.8" lengthAdjust="spacingAndGlyphs">19 Sep 2021</text>
<text x="195" y="540" font-size="9.9" fill="#000" stroke="#000" stroke-width="0.12" textLength="44.7" lengthAdjust="spacingAndGlyphs">7 Oct 2021</text>
<text x="259" y="540" font-size="9.9" fill="#000" stroke="#000" stroke-width="0.12" textLength="49.8" lengthAdjust="spacingAndGlyphs">26 Oct 2021</text>
<text x="323" y="540" font-size="9.9" fill="#000" stroke="#000" stroke-width="0.12" textLength="51.8" lengthAdjust="spacingAndGlyphs">14 Nov 2021</text>
<text x="387" y="540" font-size="9.9" fill="#000" stroke="#000" stroke-width="0.12" textLength="46.7" lengthAdjust="spacingAndGlyphs">2 Dec 2021</text>
<text x="451" y="540" font-size="9.9" fill="#000" stroke="#000" stroke-width="0.12" textLength="51.8" lengthAdjust="spacingAndGlyphs">21 Dec 2021</text>
<text x="515" y="540" font-size="9.9" fill="#000" stroke="#000" stroke-width="0.12" textLength="45.2" lengthAdjust="spacingAndGlyphs">9 Jan 2022</text>
<text x="579" y="540" font-size="9.9" fill="#000" stroke="#000" stroke-width="0.12" textLength="50.3" lengthAdjust="spacingAndGlyphs">27 Jan 2022</text>
<text x="643" y="540" font-size="9.9" fill="#000" stroke="#000" stroke-width="0.12" textLength="51.3" lengthAdjust="spacingAndGlyphs">15 Feb 2022</text>
<text x="707" y="540" font-size="9.9" fill="#000" stroke="#000" stroke-width="0.12" textLength="46.2" lengthAdjust="spacingAndGlyphs">6 Mar 2022</text>
<text x="771" y="540" font-size="9.9" fill="#000" stroke="#000" stroke-width="0.12" textLength="51.3" lengthAdjust="spacingAndGlyphs">24 Mar 2022</text>
<text x="835" y="540" font-size="9.9" fill="#000" stroke="#000" stroke-width="0.12" textLength="49.8" lengthAdjust="spacingAndGlyphs">12 Apr 2022</text>
<text x="899" y="540" font-size="9.9" fill="#000" stroke="#000" stroke-width="0.12" textLength="47.7" lengthAdjust="spacingAndGlyphs">1 May 2022</text>
<rect x="0" y="548" width="1190" height="1" fill="#e3e3e3"/>
<rect x="0" y="550" width="1190" height="1" fill="#000"/>
<rect x="0" y="551" width="1190" height="18" fill="#f0f0f0"/>
<rect x="0" y="570" width="1190" height="2" fill="#f0f0f0"/>
<rect x="320" y="550" width="108" height="19" fill="#000"/>
<rect x="321" y="551" width="106" height="17" fill="#fff"/>
<text x="15.3" y="565" font-size="12.5" fill="#6a6a6a" textLength="77.6" lengthAdjust="spacingAndGlyphs">USDX,Weekly</text>
<text x="115" y="565" font-size="12.5" fill="#6a6a6a" textLength="84.7" lengthAdjust="spacingAndGlyphs">EURUSD-,Daily</text>
<text x="221.8" y="565" font-size="12.5" fill="#6a6a6a" textLength="86.8" lengthAdjust="spacingAndGlyphs">AUDUSD-,Daily</text>
<text x="332" y="565" font-size="12.5" fill="#000" textLength="84" lengthAdjust="spacingAndGlyphs">USDCHF-,Daily</text>
<text x="438.9" y="565" font-size="12.5" fill="#6a6a6a" textLength="85.9" lengthAdjust="spacingAndGlyphs">USDCAD-,Daily</text>
<text x="548" y="565" font-size="12.5" fill="#6a6a6a" textLength="87.7" lengthAdjust="spacingAndGlyphs">USDCNH-,Daily</text>
<text x="659" y="565" font-size="12.5" fill="#6a6a6a" textLength="85.5" lengthAdjust="spacingAndGlyphs">XAUUSD-,Daily</text>
<text x="767.2" y="565" font-size="12.5" fill="#6a6a6a" textLength="56.0" lengthAdjust="spacingAndGlyphs">UKOil-,H4</text>
<text x="847.6" y="565" font-size="12.5" fill="#6a6a6a" textLength="76.8" lengthAdjust="spacingAndGlyphs">DJ30-,Weekly</text>
<text x="947.4" y="565" font-size="12.5" fill="#6a6a6a" textLength="61.0" lengthAdjust="spacingAndGlyphs">UK100-,H1</text>
<text x="1032.6" y="565" font-size="12.5" fill="#6a6a6a" textLength="67.1" lengthAdjust="spacingAndGlyphs">USOil-,Daily</text>
<clipPath id="hk"><rect x="1118" y="551" width="40" height="18"/></clipPath>
<text x="1122.5" y="565" font-size="12.2" fill="#6a6a6a" clip-path="url(#hk)">HK50-,Daily</text>
<rect x="104" y="553" width="1" height="14" fill="#6a6a6a"/>
<rect x="212" y="553" width="1" height="14" fill="#6a6a6a"/>
<rect x="536" y="553" width="1" height="14" fill="#6a6a6a"/>
<rect x="648" y="553" width="1" height="14" fill="#6a6a6a"/>
<rect x="756" y="553" width="1" height="14" fill="#6a6a6a"/>
<rect x="836" y="553" width="1" height="14" fill="#6a6a6a"/>
<rect x="936" y="553" width="1" height="14" fill="#6a6a6a"/>
<rect x="1020" y="553" width="1" height="14" fill="#6a6a6a"/>
<rect x="1112" y="553" width="1" height="14" fill="#6a6a6a"/>
<path d="M1168.5 556 L1164.5 559.5 L1168.5 563 Z" fill="#909090"/>
<path d="M1184 556 L1188 559.5 L1184 563 Z" fill="#000"/>
</svg>

<div id="tp">
 <div style="left:4px;top:45px;width:223px;height:59px;background:#fff;"></div>
 <div class="rb" style="left:6px;top:46px;width:52px;height:25px;"></div>
 <div class="rb" style="left:173px;top:46px;width:52px;height:25px;"></div>
 <div class="pb" style="left:6px;top:70px;width:109px;height:33px;"></div>
 <div class="pb" style="left:117px;top:70px;width:108px;height:33px;"></div>
 <div class="ln" style="left:10px;top:69px;width:44px;"></div>
 <div class="ln2" style="left:10px;top:70px;width:44px;"></div>
 <div class="ln" style="left:177px;top:69px;width:44px;"></div>
 <div class="ln2" style="left:177px;top:70px;width:44px;"></div>
 <div style="left:60px;top:46px;width:111px;height:22px;border:1px solid #a9adb5;background:#fff;"></div>
 <div style="left:81px;top:46px;width:1px;height:22px;background:#a9adb5;"></div>
 <div style="left:149px;top:46px;width:1px;height:22px;background:#a9adb5;"></div>
 <div class="spin" style="left:62px;"><svg width="18" height="18" style="position:absolute;left:0;top:0"><path d="M5.5 7 L11.5 7 L8.5 10 Z" fill="#4a62c4"/></svg></div>
 <div class="spin" style="left:151px;"><svg width="18" height="18" style="position:absolute;left:0;top:0"><path d="M6 10 L12 10 L9 7 Z" fill="#4a62c4"/></svg></div>
</div>

<svg id="pt" width="1190" height="572" font-family="Liberation Sans, sans-serif"><text x="18.3" y="62" font-size="11.5" fill="#fff4f4" textLength="25.1" lengthAdjust="spacingAndGlyphs" stroke="#fff4f4" stroke-width="0.15">SELL</text><text x="186.5" y="62" font-size="11.5" fill="#fff4f4" textLength="23.3" lengthAdjust="spacingAndGlyphs" stroke="#fff4f4" stroke-width="0.15">BUY</text><text x="122.2" y="61" font-size="12.5" fill="#111" textLength="23.3" lengthAdjust="spacingAndGlyphs" stroke="#111" stroke-width="0.3">2.00</text><text x="25.7" y="97.5" font-size="12" fill="#fff" textLength="23.8" lengthAdjust="spacingAndGlyphs" font-weight="bold">0.97</text><text x="136" y="97.5" font-size="12" fill="#fff" textLength="23.6" lengthAdjust="spacingAndGlyphs" font-weight="bold">0.97</text><text x="53.8" y="97.5" font-size="32.5" fill="#fff" textLength="33.7" lengthAdjust="spacingAndGlyphs">42</text><text x="163.9" y="97.5" font-size="32.5" fill="#fff" textLength="34.8" lengthAdjust="spacingAndGlyphs">44</text><text x="93.6" y="82.2" font-size="10" fill="#fff" textLength="5.4" lengthAdjust="spacingAndGlyphs" font-weight="bold">5</text><text x="204.2" y="82.2" font-size="10" fill="#fff" textLength="6.2" lengthAdjust="spacingAndGlyphs" font-weight="bold">9</text></svg>
</body></html>
